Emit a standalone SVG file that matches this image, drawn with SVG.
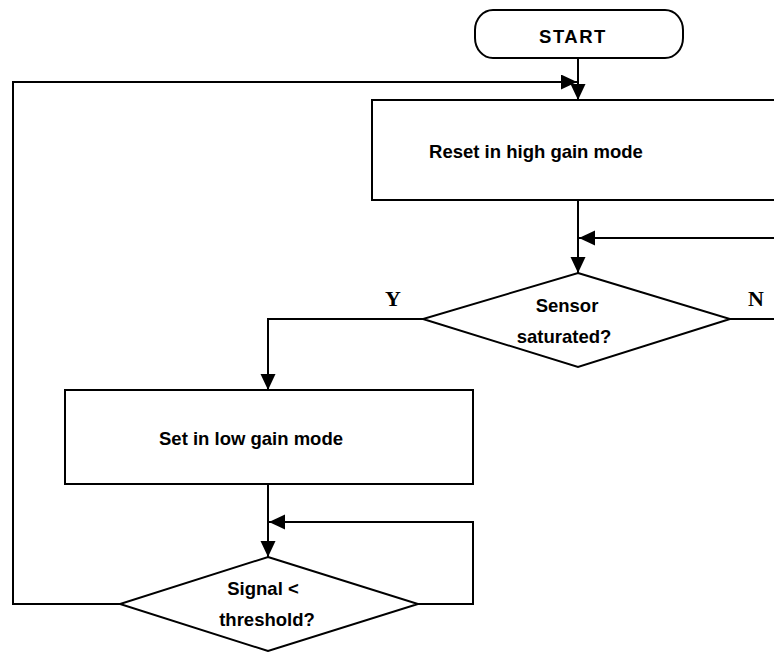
<svg xmlns="http://www.w3.org/2000/svg" width="774" height="652" viewBox="0 0 774 652">
  <style>
    .shape { fill: #ffffff; stroke: #000000; stroke-width: 2; }
    .wire { fill: none; stroke: #000000; stroke-width: 2; }
    .lbl { font-family: "Liberation Sans", Arial, sans-serif; font-weight: bold; font-size: 18.5px; fill: #000000; text-anchor: middle; }
    .yn { font-family: "Liberation Serif", "Times New Roman", serif; font-weight: bold; font-size: 22px; fill: #000000; text-anchor: middle; }
  </style>
  <defs>
    <marker id="arrow" markerUnits="userSpaceOnUse" markerWidth="18" markerHeight="16" refX="16" refY="7.5" orient="auto">
      <path d="M0,0 L16,7.5 L0,15 z" fill="#000000"/>
    </marker>
  </defs>
  <rect width="774" height="652" fill="#ffffff"/>

  <!-- connectors -->
  <g id="connectors">
    <path class="wire" d="M578,58 V100" marker-end="url(#arrow)"/>
    <path class="wire" d="M120,604 H13 V82 H577" marker-end="url(#arrow)"/>
    <path class="wire" d="M578,200 V273" marker-end="url(#arrow)"/>
    <path class="wire" d="M776,238 H579" marker-end="url(#arrow)"/>
    <path class="wire" d="M730,319 H776"/>
    <path class="wire" d="M423,319 H268 V390" marker-end="url(#arrow)"/>
    <path class="wire" d="M268,484 V557" marker-end="url(#arrow)"/>
    <path class="wire" d="M417,604 H473 V522 H269" marker-end="url(#arrow)"/>
  </g>

  <!-- terminal -->
  <g id="start">
    <rect class="shape" x="475" y="10" width="208" height="48" rx="18" ry="20"/>
    <text class="lbl" x="573" y="43" font-size="21" letter-spacing="1.5">START</text>
  </g>

  <g id="reset-high-gain">
    <rect class="shape" x="372" y="100" width="420" height="100"/>
    <text class="lbl" x="536" y="158">Reset in high gain mode</text>
  </g>

  <g id="sensor-saturated">
    <polygon class="shape" points="578,273 730,319 578,367 423,319"/>
    <text class="lbl" x="567" y="312">Sensor</text>
    <text class="lbl" x="564" y="343">saturated?</text>
    <text class="yn" x="393" y="306">Y</text>
    <text class="yn" x="756" y="306">N</text>
  </g>

  <g id="set-low-gain">
    <rect class="shape" x="65" y="390" width="408" height="94"/>
    <text class="lbl" x="251" y="445">Set in low gain mode</text>
  </g>

  <g id="signal-threshold">
    <polygon class="shape" points="268,557 418,604 268,651 120,604"/>
    <text class="lbl" x="263" y="595">Signal &lt;</text>
    <text class="lbl" x="267" y="626">threshold?</text>
  </g>
</svg>
